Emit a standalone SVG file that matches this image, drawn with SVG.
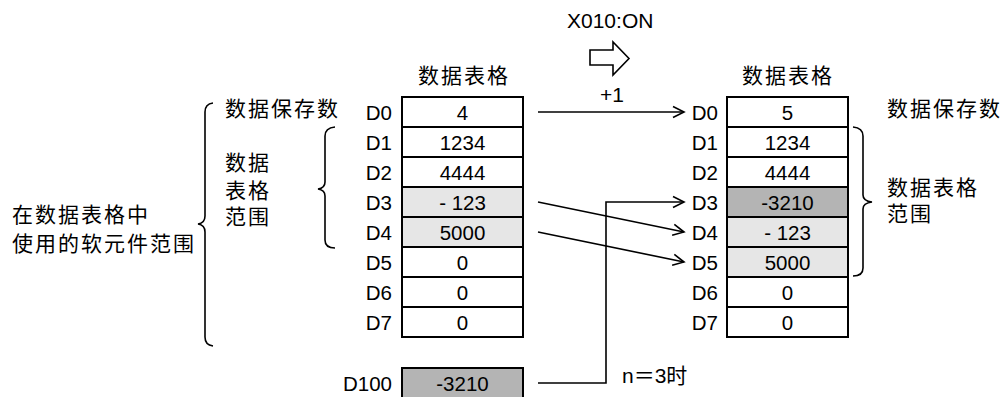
<svg xmlns="http://www.w3.org/2000/svg" width="1002" height="397" viewBox="0 0 1002 397">
<style>
.cell{fill:#ffffff;stroke:#000;stroke-width:2}
.lg{fill:#e6e6e6}
.dg{fill:#b4b4b4}
.num{font-family:"Liberation Sans",Arial,sans-serif;font-size:20.5px;fill:#000;text-anchor:middle}
.lbl{font-family:"Liberation Sans",Arial,sans-serif;font-size:20.5px;fill:#000;text-anchor:end}
.cjk{font-family:"Liberation Sans","Noto Sans CJK SC",sans-serif;font-size:21px;letter-spacing:2px;fill:#000}
.lat{font-family:"Liberation Sans",Arial,sans-serif;font-size:21px;fill:#000}
.conn{fill:none;stroke:#000;stroke-width:1.6}
.brace{fill:none;stroke:#000;stroke-width:1.6}
</style>
<defs>
<marker id="arr" markerUnits="userSpaceOnUse" markerWidth="16" markerHeight="16" viewBox="-13 -8 16 16" refX="0" refY="0" orient="auto">
<path d="M-11,-5.5 L0,0 L-11,5.5" fill="none" stroke="#000" stroke-width="1.6"/>
</marker>
</defs>

<g id="header">
<text class="lat" x="567" y="28">X010:ON</text>
<polygon points="590,50 613,50 613,42 629,58.5 613,75 613,65 590,65" fill="#fff" stroke="#000" stroke-width="1.6"/>
</g>

<g id="left-table">
<text class="cjk" x="418" y="82.5">数据表格</text>
<rect class="cell" x="402" y="97" width="121" height="30"/>
<rect class="cell" x="402" y="127" width="121" height="30"/>
<rect class="cell" x="402" y="157" width="121" height="30"/>
<rect class="cell lg" x="402" y="187" width="121" height="30"/>
<rect class="cell lg" x="402" y="217" width="121" height="30"/>
<rect class="cell" x="402" y="247" width="121" height="30"/>
<rect class="cell" x="402" y="277" width="121" height="30"/>
<rect class="cell" x="402" y="307" width="121" height="30"/>
<text class="lbl" x="392" y="119.5">D0</text>
<text class="lbl" x="392" y="149.5">D1</text>
<text class="lbl" x="392" y="179.5">D2</text>
<text class="lbl" x="392" y="209.5">D3</text>
<text class="lbl" x="392" y="239.5">D4</text>
<text class="lbl" x="392" y="269.5">D5</text>
<text class="lbl" x="392" y="299.5">D6</text>
<text class="lbl" x="392" y="329.5">D7</text>
<text class="num" x="462.5" y="119.5">4</text>
<text class="num" x="462.5" y="149.5">1234</text>
<text class="num" x="462.5" y="179.5">4444</text>
<text class="num" x="462.5" y="209.5">- 123</text>
<text class="num" x="462.5" y="239.5">5000</text>
<text class="num" x="462.5" y="269.5">0</text>
<text class="num" x="462.5" y="299.5">0</text>
<text class="num" x="462.5" y="329.5">0</text>
</g>

<g id="d100">
<rect class="cell dg" x="402" y="368" width="121" height="34"/>
<text class="lbl" x="392" y="390.5">D100</text>
<text class="num" x="462.5" y="390.5">-3210</text>
</g>

<g id="right-table">
<text class="cjk" x="742" y="82.5">数据表格</text>
<rect class="cell" x="727" y="97" width="121" height="30"/>
<rect class="cell" x="727" y="127" width="121" height="30"/>
<rect class="cell" x="727" y="157" width="121" height="30"/>
<rect class="cell dg" x="727" y="187" width="121" height="30"/>
<rect class="cell lg" x="727" y="217" width="121" height="30"/>
<rect class="cell lg" x="727" y="247" width="121" height="30"/>
<rect class="cell" x="727" y="277" width="121" height="30"/>
<rect class="cell" x="727" y="307" width="121" height="30"/>
<text class="lbl" x="718" y="119.5">D0</text>
<text class="lbl" x="718" y="149.5">D1</text>
<text class="lbl" x="718" y="179.5">D2</text>
<text class="lbl" x="718" y="209.5">D3</text>
<text class="lbl" x="718" y="239.5">D4</text>
<text class="lbl" x="718" y="269.5">D5</text>
<text class="lbl" x="718" y="299.5">D6</text>
<text class="lbl" x="718" y="329.5">D7</text>
<text class="num" x="787.5" y="119.5">5</text>
<text class="num" x="787.5" y="149.5">1234</text>
<text class="num" x="787.5" y="179.5">4444</text>
<text class="num" x="787.5" y="209.5">-3210</text>
<text class="num" x="787.5" y="239.5">- 123</text>
<text class="num" x="787.5" y="269.5">5000</text>
<text class="num" x="787.5" y="299.5">0</text>
<text class="num" x="787.5" y="329.5">0</text>
</g>

<g id="left-labels">
<path class="brace" d="M213,103 Q205,104 205,112 L205,216 Q205,223 198,224 Q205,225 205,232 L205,337 Q205,345 213,346"/>
<path class="brace" d="M335,127 Q325,128 325,136 L325,182 Q325,188 318,189 Q325,190 325,196 L325,240 Q325,248 335,248"/>
<text class="cjk" x="225" y="115.5">数据保存数</text>
<text class="cjk" x="225" y="169.5">数据</text>
<text class="cjk" x="225" y="197.5">表格</text>
<text class="cjk" x="225" y="223.5">范围</text>
<text class="cjk" x="12" y="221.5">在数据表格中</text>
<text class="cjk" x="12" y="250.5">使用的软元件范围</text>
</g>

<g id="right-labels">
<path class="brace" d="M853,127 Q863,128 863,136 L863,195 Q863,201 872,202 Q863,203 863,209 L863,268 Q863,276 853,276"/>
<text class="cjk" x="887" y="115.5">数据保存数</text>
<text class="cjk" x="887" y="194.5">数据表格</text>
<text class="cjk" x="887" y="221">范围</text>
</g>

<g id="connectors">
<path class="conn" d="M538,112 L684,112" marker-end="url(#arr)"/>
<path class="conn" d="M538,202 L684,232" marker-end="url(#arr)"/>
<path class="conn" d="M538,232 L684,262" marker-end="url(#arr)"/>
<path class="conn" d="M538,383 L606,383 L606,202 L684,202" marker-end="url(#arr)"/>
<text class="lat" x="600" y="102">+1</text>
<text class="lat" x="622" y="383" style="font-family:'Liberation Sans','Noto Sans CJK SC',sans-serif">n＝3时</text>
</g>
</svg>
